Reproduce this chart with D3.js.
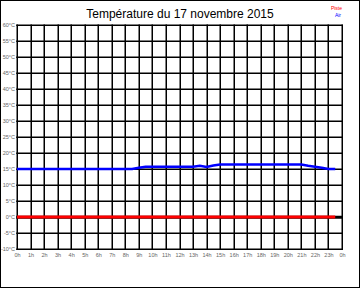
<!DOCTYPE html>
<html>
<head>
<meta charset="utf-8">
<script src="https://cdn.jsdelivr.net/npm/d3@7"></script>
<style>
  body { margin: 0; background: #fff; }
  svg { display: block; font-family: "Liberation Sans", Arial, sans-serif; }
</style>
</head>
<body>
<svg id="chart" width="360" height="288"></svg>
<script>
// half-hourly readings, 0h .. 23h30
const hours = d3.range(0, 24, 0.5);
const air = [
  15.0, 15.0, 15.0, 15.0, 15.0, 15.0, 15.0, 15.0, 15.0, 15.0,
  15.0, 15.0, 15.0, 15.0, 15.0, 15.0, 15.0, 15.0, 15.4, 15.7,
  15.7, 15.7, 15.7, 15.7, 15.7, 15.7, 15.7, 16.0, 15.6, 16.1,
  16.4, 16.4, 16.4, 16.4, 16.4, 16.4, 16.4, 16.4, 16.4, 16.4,
  16.4, 16.4, 16.4, 16.0, 15.7, 15.4, 15.0, 15.0
];
const piste = hours.map(() => 0);
const yTicks = d3.range(-10, 61, 5);
const xTicks = d3.range(0, 25, 1);
const xTickLabels = xTicks.map(h => (h % 24) + "h");

const svg = d3.select("#chart");
const margin = { left: 17, right: 18, top: 25, bottom: 39 };
const width = 360, height = 288;

const x = d3.scaleLinear().domain([0, 24]).range([margin.left, width - margin.right]);
const y = d3.scaleLinear().domain([-10, 60]).range([height - margin.bottom, margin.top]);

// outer frame
svg.append("rect")
  .attr("x", 0.5).attr("y", 0.5)
  .attr("width", width - 1).attr("height", height - 1)
  .attr("fill", "none").attr("stroke", "#000");

// title
svg.append("text")
  .attr("x", 180).attr("y", 18)
  .attr("text-anchor", "middle")
  .attr("font-size", 12)
  .text("Température du 17 novembre 2015");

// legend
svg.append("text").attr("x", 342).attr("y", 9.5).attr("text-anchor", "end")
  .attr("font-size", 5).attr("fill", "#f00").text("Piste");
svg.append("text").attr("x", 341).attr("y", 17).attr("text-anchor", "end")
  .attr("font-size", 5).attr("fill", "#00f").text("Air");

// grid
const grid = svg.append("g").attr("stroke", "#000");
grid.selectAll("line.h").data(yTicks).join("line")
  .attr("class", "h")
  .attr("x1", x(0) - 0.75).attr("x2", x(24) + 0.75)
  .attr("y1", d => Math.round(y(d)) + 0.25).attr("y2", d => Math.round(y(d)) + 0.25)
  .attr("stroke-width", d => d === 0 ? 3 : 1.5);
grid.selectAll("line.v").data(xTicks).join("line")
  .attr("class", "v")
  .attr("x1", d => Math.round(x(d)) + 0.25).attr("x2", d => Math.round(x(d)) + 0.25)
  .attr("y1", y(60) - 0.5).attr("y2", y(-10) + 1)
  .attr("stroke-width", 1.5);

// axis labels
const yAxis = d3.axisLeft(y).tickValues(yTicks).tickSize(0).tickPadding(2)
  .tickFormat(d => d + "°C");
svg.append("g").attr("transform", `translate(${x(0)},0)`).call(yAxis)
  .call(g => g.select(".domain").remove())
  .call(g => g.selectAll("text").attr("font-size", 5.5).attr("fill", "#666")
    .attr("font-family", "Liberation Sans, Arial, sans-serif"));

const xAxis = d3.axisBottom(x).tickValues(xTicks).tickSize(0).tickPadding(4)
  .tickFormat((d, i) => xTickLabels[i]);
svg.append("g").attr("transform", `translate(0,${y(-10)})`).call(xAxis)
  .call(g => g.select(".domain").remove())
  .call(g => g.selectAll("text").attr("font-size", 5.5).attr("fill", "#666")
    .attr("font-family", "Liberation Sans, Arial, sans-serif"));

// series
const line = d3.line().x((d, i) => x(hours[i])).y(d => y(d));
svg.append("path").datum(piste)
  .attr("d", line).attr("fill", "none")
  .attr("stroke", "#f00").attr("stroke-width", 3);
svg.append("path").datum(air)
  .attr("d", line).attr("fill", "none")
  .attr("stroke", "#00f").attr("stroke-width", 2.5);
</script>
</body>
</html>
